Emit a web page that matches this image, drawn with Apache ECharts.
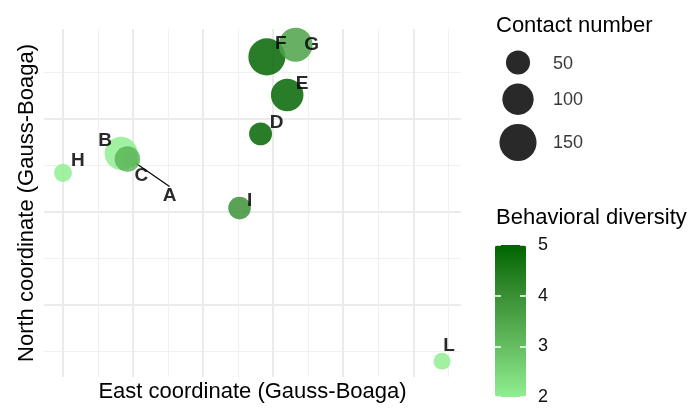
<!DOCTYPE html>
<html>
<head>
<meta charset="utf-8">
<script src="https://cdn.jsdelivr.net/npm/echarts@6/dist/echarts.min.js"></script>
<style>
  html, body { margin: 0; padding: 0; background: #fff; }
  #chart { width: 691px; height: 408px; }
</style>
</head>
<body>
<div id="chart"></div>
<script>
// sites, in the order they were plotted (later ones sit on top)
const siteNames = ['A', 'B', 'C', 'D', 'E', 'F', 'G', 'H', 'I', 'L'];
// coordinates in km relative to the first grid line
const eastCoord = [0.95, 0.83, 0.92, 2.82, 3.20, 2.91, 3.32, 0.00, 2.52, 5.41];
const northCoord = [1.57, 1.63, 1.57, 1.84, 2.26, 2.67, 2.80, 1.42, 1.04, -0.61];
const contactNumber = [10, 114, 59, 43, 110, 149, 122, 18, 41, 13];
const behavioralDiversity = [3, 2, 3.2, 5, 5, 5, 3.6, 2, 4, 2];

// legends
const sizeBreaks = [50, 100, 150];
const colourBreaks = [2, 3, 4, 5];

// ggrepel-like nudges of the point labels, in px
const labelNudge = {
  A: [40, 37], B: [-16, -13], C: [14, 17], D: [16, -11], E: [15, -11],
  F: [14, -13], G: [16, 0], H: [15, -12], I: [10, -7], L: [7, -15]
};

const FONT = "'Liberation Sans', Arial, sans-serif";
const ALPHA = 0.84;
const KEY_PAD = 9;
const BAR_W = 31;

// area grows linearly with the contact number
function sizeOf(v) {
  return 2 * Math.sqrt(46 + 1.99 * v);
}

function padded(arr) {
  const lo = Math.min(...arr), hi = Math.max(...arr);
  const p = (hi - lo) * 0.05;
  return [lo - p, hi + p];
}

const xExt = padded(eastCoord);
const yExt = padded(northCoord);

const points = siteNames.map((n, i) => {
  const item = {
    name: n,
    value: [eastCoord[i], northCoord[i], contactNumber[i], behavioralDiversity[i]]
  };
  if (n === 'A') {
    item.labelLine = { show: true, lineStyle: { color: '#000', width: 1.2 } };
  }
  return item;
});

// size legend keys stacked like ggplot does (key height follows the symbol)
let acc = 0;
const sizeKeys = sizeBreaks.map(v => {
  const h = sizeOf(v) + KEY_PAD;
  const c = acc + h / 2;
  acc += h;
  return [0.5, c, v];
});
const keyTotal = acc;

const gridLine = { color: '#EBEBEB', width: 2 };
const minorLine = { color: '#F0F0F0', width: 1 };
const barTick = { show: true, inside: true, length: 6, lineStyle: { color: '#fff', width: 1.5 } };
const cMin = colourBreaks[0], cMax = colourBreaks[colourBreaks.length - 1];

const chart = echarts.init(document.getElementById('chart'));

chart.setOption({
  animation: false,
  backgroundColor: '#fff',
  textStyle: { fontFamily: FONT },
  title: [
    {
      text: 'Contact number', left: 496, top: 15, padding: 0,
      textStyle: { fontSize: 22, fontWeight: 'normal', color: '#000', fontFamily: FONT }
    },
    {
      text: 'Behavioral diversity', left: 496, top: 207, padding: 0,
      textStyle: { fontSize: 22, fontWeight: 'normal', color: '#000', fontFamily: FONT }
    }
  ],
  grid: [
    { left: 44, top: 29, width: 417, height: 352 },
    { left: 495, top: 245, width: BAR_W, height: 152 },
    { left: 498, top: 46, width: 40, height: keyTotal }
  ],
  xAxis: [
    {
      type: 'value', gridIndex: 0, min: xExt[0], max: xExt[1],
      minInterval: 1, maxInterval: 1,
      name: 'East coordinate (Gauss-Boaga)', nameLocation: 'middle', nameGap: 4,
      nameTextStyle: { fontSize: 22, color: '#000', fontFamily: FONT },
      axisLine: { show: false }, axisTick: { show: false }, axisLabel: { show: false },
      splitLine: { show: true, showMinLine: false, showMaxLine: false, lineStyle: gridLine },
      minorTick: { show: false, splitNumber: 2 },
      minorSplitLine: { show: true, lineStyle: minorLine }
    },
    { type: 'value', gridIndex: 1, min: 0, max: 1, show: false },
    { type: 'value', gridIndex: 2, min: 0, max: 1, show: false }
  ],
  yAxis: [
    {
      type: 'value', gridIndex: 0, min: yExt[0], max: yExt[1],
      minInterval: 1, maxInterval: 1,
      name: 'North coordinate (Gauss-Boaga)', nameLocation: 'middle', nameGap: 6,
      nameTextStyle: { fontSize: 22, color: '#000', fontFamily: FONT },
      axisLine: { show: false }, axisTick: { show: false }, axisLabel: { show: false },
      splitLine: { show: true, showMinLine: false, showMaxLine: false, lineStyle: gridLine },
      minorTick: { show: false, splitNumber: 2 },
      minorSplitLine: { show: true, lineStyle: minorLine }
    },
    // colourbar labels
    {
      type: 'value', gridIndex: 1, position: 'right', z: 20,
      min: cMin, max: cMax, interval: 1,
      axisLine: { show: false }, axisTick: { show: false },
      axisLabel: { margin: 12, fontSize: 18, color: '#111', fontFamily: FONT, padding: [4, 0, 0, 0] },
      splitLine: { show: false }
    },
    // white ticks on the left edge of the bar
    {
      type: 'value', gridIndex: 1, position: 'left', z: 20,
      min: cMin, max: cMax, interval: 1,
      axisLine: { show: false }, axisTick: barTick, axisLabel: { show: false },
      splitLine: { show: false }
    },
    // white ticks on the right edge of the bar
    {
      type: 'value', gridIndex: 1, position: 'left', offset: -(BAR_W - 6), z: 20,
      min: cMin, max: cMax, interval: 1,
      axisLine: { show: false }, axisTick: barTick, axisLabel: { show: false },
      splitLine: { show: false }
    },
    { type: 'value', gridIndex: 2, min: 0, max: keyTotal, inverse: true, show: false }
  ],
  visualMap: {
    type: 'continuous',
    seriesIndex: 0,
    dimension: 3,
    min: cMin,
    max: cMax,
    calculable: false,
    hoverLink: false,
    orient: 'vertical',
    left: 495,
    top: 245,
    padding: 0,
    z: 2,
    itemWidth: BAR_W,
    itemHeight: 152,
    text: null,
    inRange: { color: ['#90EE90', '#65BE61', '#3A9034', '#006400'] }
  },
  series: [
    {
      type: 'scatter',
      xAxisIndex: 0, yAxisIndex: 0,
      data: points,
      symbolSize: v => sizeOf(v[2]),
      itemStyle: { opacity: ALPHA },
      emphasis: { disabled: true },
      label: {
        show: true, position: 'inside', formatter: '{b}',
        fontSize: 19, fontWeight: 'bold', color: '#000', fontFamily: FONT
      },
      labelLayout: p => {
        const o = labelNudge[siteNames[p.dataIndex]];
        return { dx: o[0], dy: o[1] };
      }
    },
    {
      type: 'scatter',
      xAxisIndex: 2, yAxisIndex: 4,
      data: sizeKeys,
      symbolSize: v => sizeOf(v[2]),
      itemStyle: { color: '#000', opacity: ALPHA },
      emphasis: { disabled: true },
      label: {
        show: true, position: 'inside', align: 'left', offset: [35, 1],
        formatter: p => String(p.value[2]),
        fontSize: 18, color: '#111', fontFamily: FONT
      }
    }
  ]
});
</script>
</body>
</html>
